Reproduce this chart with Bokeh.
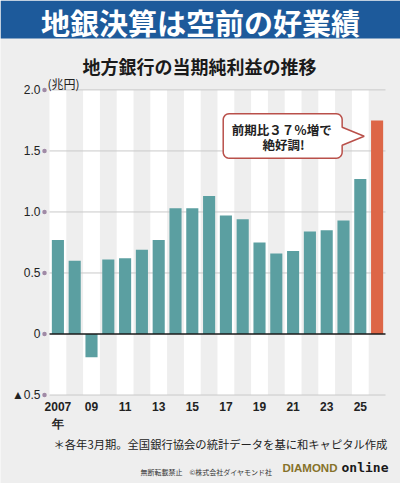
import math

from bokeh.plotting import figure
from bokeh.models import Range1d, Label, FixedTicker, ColumnDataSource
from bokeh.embed import file_html
from bokeh.resources import INLINE
from bokeh.core.properties import value

# ---- data -------------------------------------------------------------
years = list(range(2007, 2027))
net_profit = [0.77, 0.60, -0.19, 0.61, 0.62, 0.69, 0.77, 1.03, 1.03, 1.13,
              0.97, 0.94, 0.75, 0.66, 0.68, 0.84, 0.85, 0.93, 1.27, 1.75]
y_ticks = [-0.5, 0.0, 0.5, 1.0, 1.5, 2.0]
y_tick_labels = ["▲0.5", "0", "0.5", "1.0", "1.5", "2.0"]
x_ticks = [2007, 2009, 2011, 2013, 2015, 2017, 2019, 2021, 2023, 2025]
x_tick_labels = ["2007\n年", "09", "11", "13", "15", "17", "19", "21", "23", "25"]

# ---- styling ------------------------------------------------------------
W, H = 400, 483
BG = "#eeeeee"
BLUE = "#1d5a9b"
TEAL = "#5b9fa1"
ORANGE = "#dd6647"
CALLOUT = "#b9504a"
GRID = "#c9c9c9"
DOT = "#a08aa6"
JP = "Noto Sans CJK JP"
NUM = "Liberation Sans"

COL_PX = 16.8      # pixels per year column
PX_Y = 122.05      # pixels per 1 trillion yen
COL_LEFT_PX = 49   # left edge of the first column on the page
TOP_TICK_PX = 89.4 # page height of the top tick

col_left = years[0] - 0.5
col_right = years[-1] + 0.5
x_start = col_left - COL_LEFT_PX / COL_PX
y_top = y_ticks[-1] + TOP_TICK_PX / PX_Y

p = figure(width=W, height=H, min_border=0,
           x_range=Range1d(x_start, x_start + W / COL_PX),
           y_range=Range1d(y_top - H / PX_Y, y_top),
           output_backend="svg", toolbar_location=None,
           background_fill_color=BG, border_fill_color=BG, outline_line_color=None)
p.grid.visible = False


def dx(px):
    return px / COL_PX


def dy(px):
    return px / PX_Y


# blue header band
p.quad(left=[x_start], right=[x_start + dx(W)], top=[y_top], bottom=[y_top - dy(38)],
       fill_color=BLUE, line_color=None)

# alternating white columns
white_years = years[::2]
p.quad(left=[y - 0.5 for y in white_years], right=[y + 0.5 for y in white_years],
       bottom=y_ticks[0], top=y_ticks[-1], fill_color="white", line_color=None)

# horizontal guide lines
grid_vals = [v for v in y_ticks if v != 0]
p.segment(x0=[col_left] * len(grid_vals), x1=[col_right] * len(grid_vals),
          y0=grid_vals, y1=grid_vals, line_color=GRID, line_width=1)

# bars
colors = [TEAL] * (len(years) - 1) + [ORANGE]
src = ColumnDataSource(dict(x=years, top=net_profit, color=colors))
p.vbar(x="x", top="top", bottom=0, width=0.72, fill_color="color", line_color=None, source=src)

# zero line
p.segment(x0=[col_left], x1=[col_right], y0=[0], y1=[0], line_color="#1a1a1a", line_width=1.6)

# tick dots beside the value labels
p.scatter(x=[col_left - dx(5)] * len(y_ticks), y=y_ticks, size=4.5, fill_color=DOT, line_color=None)

# axes pinned to the column area
p.yaxis.fixed_location = col_left
p.yaxis.ticker = FixedTicker(ticks=y_ticks)
p.yaxis.major_label_overrides = dict(zip(y_ticks, y_tick_labels))
p.yaxis.axis_line_color = None
p.yaxis.major_tick_line_color = None
p.yaxis.minor_tick_line_color = None
p.yaxis.major_tick_in = 0
p.yaxis.major_tick_out = 0
p.yaxis.major_label_standoff = 9
p.yaxis.major_label_text_font = NUM
p.yaxis.major_label_text_font_size = "12px"
p.yaxis.major_label_text_color = "#222222"

p.xaxis.fixed_location = y_ticks[0]
p.xaxis.ticker = FixedTicker(ticks=x_ticks)
p.xaxis.major_label_overrides = dict(zip(x_ticks, x_tick_labels))
p.xaxis.axis_line_color = None
p.xaxis.major_tick_line_color = None
p.xaxis.minor_tick_line_color = None
p.xaxis.major_tick_in = 0
p.xaxis.major_tick_out = 0
p.xaxis.major_label_standoff = 5
p.xaxis.major_label_text_font = NUM
p.xaxis.major_label_text_font_style = "bold"
p.xaxis.major_label_text_font_size = "12px"
p.xaxis.major_label_text_color = "#222222"

# ---- speech bubble pointing at the latest bar ------------------------------
bx0, bx1 = 2016.84, 2023.92
by0, by1 = 1.44, 1.805
tip_x, tip_y = years[-1] - 0.5 - dx(4.5), 1.62
tail_top, tail_bot = 1.694, 1.546
rx, ry = dx(6), dy(6)


def arc(cx, cy, a0, a1, n=6):
    pts = []
    for i in range(n + 1):
        a = math.radians(a0 + (a1 - a0) * i / n)
        pts.append((cx + rx * math.cos(a), cy + ry * math.sin(a)))
    return pts


outline = []
outline += arc(bx0 + rx, by1 - ry, 180, 90)
outline += arc(bx1 - rx, by1 - ry, 90, 0)
outline += [(bx1, tail_top), (tip_x, tip_y), (bx1, tail_bot)]
outline += arc(bx1 - rx, by0 + ry, 0, -90)
outline += arc(bx0 + rx, by0 + ry, -90, -180)
p.patch(x=[pt[0] for pt in outline], y=[pt[1] for pt in outline],
        fill_color="white", line_color=CALLOUT, line_width=1.5)

cx = (bx0 + bx1) / 2
p.text(x=[cx - 0.05, cx + 0.05], y=[1.675, 1.555], text=["前期比３７％増で", "絶好調!"],
       text_font=value(JP), text_font_style="bold", text_font_size="12.5px",
       text_align="center", text_baseline="middle", text_color="#222222")


# ---- texts placed in page pixels (x from left, y from top) -----------------
def lab(x, y, text, size, align="left", style="normal", color="#222222", font=JP):
    p.add_layout(Label(x=x, y=H - y, x_units="screen", y_units="screen", text=text,
                       text_font=font, text_font_size=size, text_font_style=style,
                       text_color=color, text_align=align, text_baseline="middle"))


lab(200, 21.5, "地銀決算は空前の好業績", "29px", align="center", style="bold", color="white")
lab(199, 65, "地方銀行の当期純利益の推移", "18px", align="center", style="bold", color="#1a1a1a")
lab(47, 83, "(兆円)", "12px")
lab(53, 443, "＊各年3月期。全国銀行協会の統計データを基に和キャピタル作成", "11.3px")
lab(140, 471, "無断転載禁止　©株式会社ダイヤモンド社", "7px", color="#333333")
lab(282, 467, "DIAMOND", "11.5px", style="bold", color="#86722a", font=NUM)
lab(341, 467, "online", "13px", style="bold", color="#1a1a1a", font="DejaVu Sans Mono")

open("out.html", "w").write(file_html(p, INLINE))
